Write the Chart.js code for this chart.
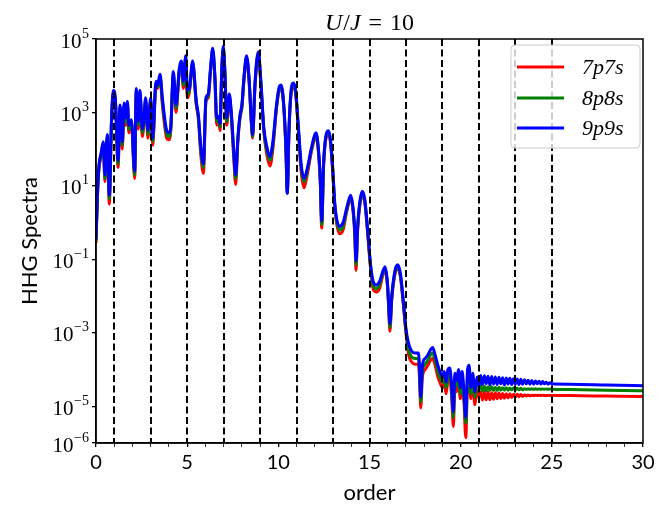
<!DOCTYPE html>
<html><head><meta charset="utf-8">
<script src="https://cdn.jsdelivr.net/npm/chart.js@4.4.1/dist/chart.umd.min.js"></script>
<style>html,body{margin:0;padding:0;background:#fff}canvas{display:block}</style>
</head><body>
<canvas id="c" width="672" height="510"></canvas>
<script>
// harmonic order (x)
const orders = [
 0,0.08,0.16,0.28,0.40,0.49,0.62,0.73,0.85,0.95,1.06,1.21,1.32,1.44,1.54,1.63,1.72,1.80,1.94,
 2.12,2.21,2.32,2.41,2.54,2.62,2.72,2.85,3.00,3.11,3.29,3.38,3.51,3.64,3.88,
 4.00,4.10,4.24,4.39,4.57,4.68,4.79,4.92,5.01,5.12,5.30,5.50,5.62,5.74,5.89,
 6.03,6.16,6.28,6.40,6.52,6.62,6.72,6.80,6.90,6.98,7.08,7.17,7.31,7.42,7.55,7.66,7.78,7.90,
 8.00,8.12,8.26,8.40,8.52,8.59,8.72,8.90,9.05,9.20,9.35,9.54,9.70,9.90,
 10.05,10.15,10.30,10.42,10.49,10.58,10.70,10.82,10.95,11.10,11.25,11.41,11.60,11.80,
 12.00,12.07,12.20,12.30,12.38,12.48,12.60,12.74,12.85,12.98,13.10,13.35,13.55,13.75,13.97,
 14.10,14.20,14.26,14.35,14.48,14.61,14.75,14.90,15.05,15.20,15.36,15.55,15.75,15.85,15.98,
 16.05,16.12,16.22,16.40,16.55,16.70,16.85,17.00,17.15,17.31,17.50,17.68,17.74,17.81,17.90,
 18.05,18.20,18.35,18.46,18.60,18.75,18.90,19.00,
 19.10,19.20,19.30,19.40,19.50,19.60,19.68,19.78,19.88,19.98,20.08,20.18,20.28,20.38,20.46,20.56,20.66,20.78,20.90,21.00,
 21.1,21.2,21.3,21.4,21.5,21.6,21.7,21.8,21.9,22.0,22.1,22.2,22.3,22.4,22.5,22.6,22.7,22.8,22.9,23.0,
 23.1,23.2,23.3,23.4,23.5,23.6,23.7,23.8,23.9,24.0,24.1,24.2,24.3,24.4,24.5,24.6,24.7,24.8,24.9,25.0,
 26,28,30
];
// 7p7s (red)
const spec7p7s = [
 0.28,5.0,28,63,130,13,200,3.2,500,3200,2000,32,1300,100,1400,450,1600,280,500,
 16,3500,350,3200,220,450,2000,200,2000,130,5600,4500,8900,1600,200,
 180,320,10000,1000,13000,20000,4500,28000,2500,3500,20000,1600,630,79,22,
 2000,2500,13000,45000,7900,450,630,320,13000,50000,7900,450,2500,790,63,11,160,710,
 1300,7900,28000,6300,500,200,5000,35000,5000,320,79,35,100,1300,
 4000,4500,1300,79,6.3,250,3200,5000,3200,320,25,8.9,22,79,
 200,220,79,13,0.71,32,180,250,160,25,2.5,0.5,0.63,2.0,4.5,
 2.0,0.4,0.05,0.63,3.2,5.6,3.2,0.5,0.063,0.016,0.013,0.016,0.04,0.05,0.02,
 0.005,0.0011,0.0079,0.04,0.056,0.032,0.0063,1.0e-3,2.5e-4,1.6e-4,1.4e-4,1.4e-4,6.3e-5,9.0e-6,6.3e-5,
 1.0e-4,1.3e-4,1.8e-4,2.0e-4,1.3e-4,6.3e-5,4.0e-5,3.2e-5,
 4.5e-5,2.2e-5,5.0e-5,5.6e-5,2.0e-5,2.8e-6,4.0e-5,2.5e-5,5.0e-5,1.6e-5,4.5e-5,1.3e-5,1.4e-6,5.0e-5,6.3e-5,1.6e-5,4.0e-5,1.1e-5,2.8e-5,1.8e-5,
 2.45e-5,1.48e-5,2.4e-5,1.5e-5,2.4e-5,1.5e-5,2.35e-5,1.55e-5,2.35e-5,1.6e-5,2.3e-5,1.62e-5,2.24e-5,1.66e-5,2.2e-5,1.7e-5,2.2e-5,1.74e-5,2.14e-5,1.78e-5,
 2.14e-5,1.82e-5,2.1e-5,1.86e-5,2.04e-5,1.9e-5,2.02e-5,1.92e-5,2.0e-5,1.94e-5,2.0e-5,1.95e-5,2.0e-5,1.96e-5,2.0e-5,1.96e-5,1.98e-5,1.96e-5,1.98e-5,1.97e-5,
 1.95e-5,1.9e-5,1.85e-5
];
// 8p8s (green)
const spec8p8s = [
 0.32,5.6,32,71,140,16,220,4.5,560,3500,2200,40,1400,130,1600,560,1800,350,560,
 20,4000,450,3500,280,500,2200,250,2200,160,6300,5000,10000,2000,250,
 220,350,11000,1300,14000,22000,5600,32000,3200,4000,22000,1800,710,100,32,
 2200,2800,14000,50000,8900,560,710,400,14000,56000,8900,560,2800,890,79,16,180,790,
 1400,8900,32000,7100,560,220,5600,40000,5600,350,100,50,130,1400,
 4500,5000,1400,89,6.3,280,3500,5600,3500,350,32,13,28,89,
 220,250,89,14,0.89,35,200,280,180,28,2.8,0.63,0.79,2.2,5.0,
 2.2,0.45,0.071,0.71,3.5,6.3,3.5,0.56,0.071,0.02,0.016,0.02,0.045,0.056,0.022,
 0.0056,0.0014,0.0089,0.045,0.063,0.035,0.0071,1.1e-3,3.5e-4,2.2e-4,2.0e-4,2.0e-4,9.0e-5,1.3e-5,9.0e-5,
 1.4e-4,1.8e-4,2.5e-4,2.8e-4,1.8e-4,9.0e-5,5.6e-5,4.5e-5,
 6.3e-5,3.2e-5,7.1e-5,7.9e-5,2.8e-5,5.0e-6,5.6e-5,3.5e-5,7.1e-5,2.2e-5,6.3e-5,1.8e-5,3.5e-6,7.1e-5,8.9e-5,2.2e-5,5.6e-5,1.8e-5,4.5e-5,4.5e-5,
 3.5e-5,2.6e-5,3.5e-5,2.6e-5,3.4e-5,2.7e-5,3.4e-5,2.7e-5,3.3e-5,2.7e-5,3.3e-5,2.75e-5,3.2e-5,2.75e-5,3.2e-5,2.75e-5,3.16e-5,2.8e-5,3.16e-5,2.8e-5,
 3.1e-5,2.8e-5,3.1e-5,2.8e-5,3.0e-5,2.9e-5,3.0e-5,2.9e-5,3.0e-5,2.9e-5,3.0e-5,2.9e-5,2.95e-5,2.9e-5,2.95e-5,2.9e-5,2.95e-5,2.9e-5,2.95e-5,2.9e-5,
 2.85e-5,2.75e-5,2.65e-5
];
// 9p9s (blue)
const spec9p9s = [
 0.35,6.3,35,79,160,20,250,5.6,630,4000,2500,50,1600,160,1800,710,2000,450,630,
 25,4500,560,4000,350,560,2500,320,2500,200,7100,5600,11000,2500,320,
 280,400,13000,1600,16000,25000,7100,35000,4000,4500,25000,2000,790,130,40,
 2500,3200,16000,56000,10000,710,790,500,16000,63000,10000,710,3200,1000,100,20,200,890,
 1600,10000,35000,7900,630,250,6300,45000,6300,400,130,63,160,1600,
 5000,5600,1600,100,6.3,320,4000,6300,4000,400,40,16,32,100,
 250,280,100,16,1.1,40,220,320,200,32,3.2,0.79,1.0,2.5,5.6,
 2.5,0.5,0.089,0.79,4.0,7.1,4.0,0.63,0.079,0.025,0.02,0.025,0.05,0.063,0.025,
 0.0063,0.0018,0.01,0.05,0.071,0.04,0.0079,1.3e-3,5.0e-4,3.2e-4,2.8e-4,2.8e-4,1.3e-4,1.8e-5,1.3e-4,
 2.0e-4,2.5e-4,3.5e-4,4.0e-4,2.5e-4,1.3e-4,7.9e-5,6.3e-5,
 8.9e-5,4.5e-5,1.0e-4,1.1e-4,4.0e-5,7.1e-6,7.9e-5,5.0e-5,1.0e-4,3.2e-5,8.9e-5,2.5e-5,5.0e-6,1.0e-4,1.3e-4,3.2e-5,7.9e-5,2.5e-5,6.3e-5,3.5e-5,
 6.9e-5,3.9e-5,6.8e-5,4.1e-5,6.6e-5,3.8e-5,6.5e-5,4.0e-5,6.3e-5,3.9e-5,6.2e-5,4.1e-5,6.0e-5,3.8e-5,5.9e-5,4.0e-5,5.75e-5,3.9e-5,5.6e-5,4.0e-5,
 5.5e-5,3.9e-5,5.4e-5,4.0e-5,5.25e-5,4.1e-5,5.1e-5,4.0e-5,5.0e-5,4.0e-5,4.9e-5,4.1e-5,4.8e-5,4.0e-5,4.7e-5,4.1e-5,4.5e-5,4.0e-5,4.4e-5,4.1e-5,
 4.0e-5,3.8e-5,3.6e-5
];
const seriesLabels = ['7p7s', '8p8s', '9p9s'];
const seriesColors = ['#ff0000', '#008000', '#0000ff'];
const yTickValues = [1e5, 1e3, 1e1, 1e-1, 1e-3, 1e-5, 1e-6];
const xTickLabels = [0, 5, 10, 15, 20, 25, 30];
const harmonicMarks = [1, 3, 5, 7, 9, 11, 13, 15, 17, 19, 21, 23, 25];
const titleParts = [['U', 'italic', 0], ['/', 'normal', 1], ['J', 'italic', 0], ['=', 'normal', 8], ['10', 'normal', 8]];

[spec7p7s, spec8p8s, spec9p9s].forEach((a, i) => {
  if (a.length !== orders.length) console.error('length mismatch', i, a.length, orders.length);
});

const SERIF = '"Liberation Serif", "DejaVu Serif", serif';
const SANS = 'Lato, "Open Sans", sans-serif';

const decor = {
  id: 'decor',
  afterDatasetsDraw(chart) {
    const {ctx, chartArea: a, scales: {x}} = chart;
    ctx.save();
    ctx.beginPath(); ctx.rect(a.left, a.top, a.right - a.left, a.bottom - a.top); ctx.clip();
    ctx.strokeStyle = '#000'; ctx.lineWidth = 2; ctx.setLineDash([7, 3.5]);
    harmonicMarks.forEach(h => {
      const px = Math.round(x.getPixelForValue(h));
      ctx.beginPath(); ctx.moveTo(px, a.top); ctx.lineTo(px, a.bottom); ctx.stroke();
    });
    ctx.restore();
  },
  afterDraw(chart) {
    const {ctx, chartArea: a, scales: {y}} = chart;
    ctx.save();
    // frame
    ctx.strokeStyle = '#000'; ctx.lineWidth = 1.5; ctx.setLineDash([]);
    ctx.strokeRect(a.left, a.top, a.right - a.left, a.bottom - a.top);
    // y tick labels 10^n
    ctx.fillStyle = '#000';
    ctx.textBaseline = 'alphabetic';
    yTickValues.forEach(v => {
      const e = Math.round(Math.log10(v));
      const py = y.getPixelForValue(v);
      const expStr = (e < 0 ? '\u2212' : '') + Math.abs(e);
      ctx.font = '14px ' + SERIF;
      const ew = ctx.measureText(expStr).width;
      const right = a.left - 7;
      ctx.textAlign = 'left';
      ctx.fillText(expStr, right - ew, py - 1.5);
      ctx.font = '21px ' + SERIF;
      ctx.textAlign = 'right';
      ctx.fillText('10', right - ew - 0.5, py + 8.5);
    });
    // legend
    const lx = 511, ly = 45, lw = 129, lh = 103, r = 4;
    ctx.beginPath();
    ctx.moveTo(lx + r, ly); ctx.lineTo(lx + lw - r, ly); ctx.quadraticCurveTo(lx + lw, ly, lx + lw, ly + r);
    ctx.lineTo(lx + lw, ly + lh - r); ctx.quadraticCurveTo(lx + lw, ly + lh, lx + lw - r, ly + lh);
    ctx.lineTo(lx + r, ly + lh); ctx.quadraticCurveTo(lx, ly + lh, lx, ly + lh - r);
    ctx.lineTo(lx, ly + r); ctx.quadraticCurveTo(lx, ly, lx + r, ly);
    ctx.closePath();
    ctx.fillStyle = 'rgba(255,255,255,0.8)'; ctx.fill();
    ctx.strokeStyle = '#cccccc'; ctx.lineWidth = 1; ctx.stroke();
    const rows = [67, 98, 128];
    seriesLabels.forEach((lab, i) => {
      ctx.strokeStyle = seriesColors[i]; ctx.lineWidth = 3;
      ctx.beginPath(); ctx.moveTo(517, rows[i]); ctx.lineTo(564, rows[i]); ctx.stroke();
      ctx.fillStyle = '#000'; ctx.font = 'italic 22px ' + SERIF;
      ctx.textAlign = 'left'; ctx.textBaseline = 'alphabetic';
      ctx.fillText(lab, 582, rows[i] + 7);
    });
    // title
    const fs = 24;
    let total = 0;
    const widths = titleParts.map(([t, s, gap]) => { ctx.font = (s === 'italic' ? 'italic ' : '') + fs + 'px ' + SERIF; const w = ctx.measureText(t).width + gap; total += w; return w; });
    let tx = (a.left + a.right) / 2 - total / 2;
    titleParts.forEach(([t, s, gap], i) => {
      ctx.font = (s === 'italic' ? 'italic ' : '') + fs + 'px ' + SERIF;
      ctx.textAlign = 'left'; ctx.fillStyle = '#000';
      ctx.fillText(t, tx + gap, 30);
      tx += widths[i];
    });
    ctx.restore();
  }
};

const datasets = [spec7p7s, spec8p8s, spec9p9s].map((arr, i) => ({
  label: seriesLabels[i],
  data: orders.map((o, k) => ({x: o, y: arr[k]})),
  borderColor: seriesColors[i],
  backgroundColor: seriesColors[i],
  borderWidth: 3,
  pointRadius: 0,
  fill: false,
  cubicInterpolationMode: 'monotone',
  order: 3 - i
}));

new Chart(document.getElementById('c'), {
  type: 'line',
  data: {datasets},
  options: {
    responsive: false,
    animation: false,
    devicePixelRatio: 1,
    layout: {padding: {top: 39, right: 29, left: 0, bottom: 0}},
    plugins: {legend: {display: false}, tooltip: {enabled: false}, title: {display: false}},
    scales: {
      x: {
        type: 'linear', min: 0, max: 30,
        afterBuildTicks: (s) => { const t = []; for (let v = 0; v <= 30; v++) t.push({value: v}); s.ticks = t; },
        afterFit: (s) => { s.height = 67; },
        ticks: {
          autoSkip: false, maxRotation: 0, padding: 4, color: '#000',
          font: {family: SANS, size: 20},
          callback: (v) => xTickLabels.includes(v) ? String(v) : ''
        },
        grid: {drawOnChartArea: false, drawTicks: true, tickLength: 4, color: '#000',
               lineWidth: (c) => (c.tick && xTickLabels.includes(c.tick.value)) ? 1.3 : 0.8},
        border: {display: true, color: '#000', width: 1.5},
        title: {display: true, text: 'order', color: '#000', font: {family: SANS, size: 22}, padding: {top: 0, bottom: 4}}
      },
      y: {
        type: 'logarithmic', min: 1e-6, max: 1e5,
        afterBuildTicks: (s) => { s.ticks = yTickValues.map(v => ({value: v})); },
        afterFit: (s) => { s.width = 96; },
        ticks: {callback: () => '', autoSkip: false},
        grid: {drawOnChartArea: false, drawTicks: true, tickLength: 4, color: '#000', lineWidth: 1.3},
        border: {display: true, color: '#000', width: 1.5},
        title: {display: true, text: 'HHG Spectra', color: '#000', font: {family: SANS, size: 22}, padding: {top: 17, bottom: 0}}
      }
    }
  },
  plugins: [decor]
});
</script>
</body></html>
